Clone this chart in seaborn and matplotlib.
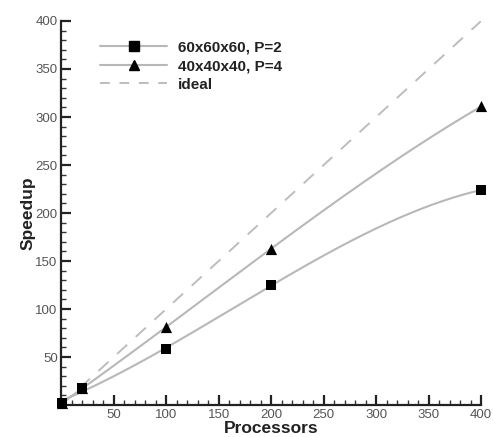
import numpy as np
import pandas as pd
import matplotlib
matplotlib.use("Agg")
import matplotlib.pyplot as plt
import seaborn as sns
from matplotlib.ticker import MultipleLocator, FixedLocator
from matplotlib.lines import Line2D

# ---- data ----
processors = [1, 20, 100, 200, 400]
speedup_60 = [2, 18, 58, 125, 224]
speedup_40 = [2, 18, 81, 163, 311]
ideal_x = [0, 400]
ideal_y = [0, 400]
xticks = [50, 100, 150, 200, 250, 300, 350, 400]
yticks = [50, 100, 150, 200, 250, 300, 350, 400]
label_60 = "60x60x60, P=2"
label_40 = "40x40x40, P=4"
label_ideal = "ideal"


def fit_curve(x, y, deg=3, n=300):
    """Smooth least-squares curve fit through the data, used only for the drawn line."""
    x = np.asarray(x, float); y = np.asarray(y, float)
    coef = np.polyfit(x, y, deg)
    xs = np.linspace(x[0], x[-1], n)
    return xs, np.polyval(coef, xs)


sns.set_style("white")
plt.rcParams["font.family"] = ["Liberation Sans", "DejaVu Sans"]

fig = plt.figure(figsize=(4.93, 4.37), dpi=100)
ax = fig.add_axes([0.124, 0.073, 0.852, 0.879])

line_col = "#b8b8b8"
df_ideal = pd.DataFrame({"x": ideal_x, "y": ideal_y})
ax.plot(df_ideal["x"], df_ideal["y"], color="#bdbdbd", lw=1.4, ls=(0, (7, 6)))

for xs_, ys_, mk, sz in [(processors, speedup_60, "s", 55), (processors, speedup_40, "^", 65)]:
    cx, cy = fit_curve(xs_, ys_)
    sns.lineplot(x=cx, y=cy, ax=ax, color=line_col, lw=1.5, sort=False, estimator=None)
    sns.scatterplot(x=xs_, y=ys_, ax=ax, marker=mk, color="black", s=sz,
                    edgecolor="black", linewidth=0, zorder=5, clip_on=False)

ax.set_xlim(0, 400)
ax.set_ylim(0, 400)
for s in ["top", "right"]:
    ax.spines[s].set_visible(False)
for s in ["left", "bottom"]:
    ax.spines[s].set_color("#222222")
    ax.spines[s].set_linewidth(1.6)

ax.xaxis.set_major_locator(FixedLocator(xticks))
ax.yaxis.set_major_locator(FixedLocator(yticks))
ax.xaxis.set_minor_locator(MultipleLocator(10))
ax.yaxis.set_minor_locator(MultipleLocator(10))
ax.tick_params(which="major", direction="in", length=7, width=1.6, color="#222222",
               labelsize=9.5, labelcolor="#555555", pad=2.5)
ax.tick_params(which="minor", direction="in", length=3.5, width=1.0, color="#333333")
ax.tick_params(axis="both", which="both", bottom=True, left=True)

ax.set_xlabel("Processors", fontsize=12.5, fontweight="bold", color="#222222", labelpad=0)
ax.set_ylabel("Speedup", fontsize=12.5, fontweight="bold", color="#222222", labelpad=0)

handles = [
    Line2D([], [], color=line_col, lw=1.5, marker="s", markersize=6.5,
           markerfacecolor="black", markeredgecolor="black"),
    Line2D([], [], color=line_col, lw=1.5, marker="^", markersize=7,
           markerfacecolor="black", markeredgecolor="black"),
    Line2D([], [], color="#bdbdbd", lw=1.4, ls=(0, (5, 5))),
]
leg = ax.legend(handles, [label_60, label_40, label_ideal], loc="upper left",
                bbox_to_anchor=(0.06, 0.985), frameon=False, handlelength=4.4,
                handletextpad=0.7, labelspacing=0.3, prop={"weight": "bold", "size": 11})
for t in leg.get_texts():
    t.set_color("#222222")

fig.savefig("out.png", dpi=100)
